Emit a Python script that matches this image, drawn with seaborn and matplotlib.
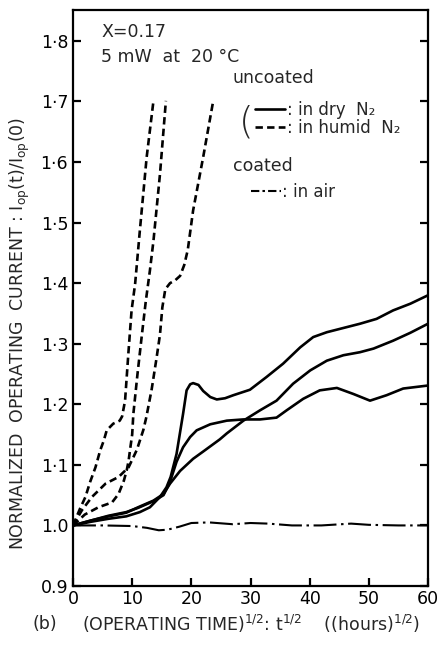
import numpy as np
import pandas as pd
import seaborn as sns
import matplotlib
matplotlib.use("Agg")
import matplotlib.pyplot as plt
from matplotlib.lines import Line2D

# ---------------- data ----------------
# uncoated, humid N2 (dashed)
hum_a_x = [0, 1.2, 2.1, 2.9, 3.8, 4.6, 5.2, 5.7, 6.8, 7.9, 8.3, 8.8, 9.35, 9.9, 10.5, 11.3, 12.45, 13.6]
hum_a_y = [1.0, 1.028, 1.047, 1.072, 1.096, 1.124, 1.140, 1.157, 1.168, 1.173, 1.180, 1.206, 1.283, 1.355, 1.399, 1.487, 1.608, 1.701]

hum_b_x = [0, 1.5, 3.2, 5.5, 7.7, 9.4, 10.8, 11.9, 12.4, 13.3, 14.1, 14.7, 15.1, 15.6, 16.4, 17.3, 18.1, 18.8, 19.4, 20.3, 22.0, 23.7]
hum_b_y = [1.0, 1.025, 1.047, 1.069, 1.080, 1.096, 1.125, 1.158, 1.179, 1.225, 1.275, 1.315, 1.360, 1.390, 1.400, 1.405, 1.412, 1.430, 1.455, 1.520, 1.608, 1.701]

hum_c_x = [0, 2.0, 4.3, 6.6, 7.7, 8.6, 9.1, 9.4, 9.7, 10.0, 10.2, 10.9, 11.6, 12.3, 13.0, 13.6, 14.7, 15.7]
hum_c_y = [1.0, 1.018, 1.030, 1.038, 1.052, 1.074, 1.092, 1.107, 1.129, 1.150, 1.184, 1.250, 1.311, 1.370, 1.421, 1.470, 1.580, 1.701]

# uncoated, dry N2 (solid)
dry_a_x = [0, 3, 6, 9, 11.3, 13.0, 14.7, 15.8, 16.5, 17.5, 18.6, 19.2, 19.8, 20.3, 21.2, 22.0, 23.2, 24.3, 25.7, 27.1, 29.9, 32.7, 35.5, 38.4, 40.6, 42.9, 45.7, 48.5, 51.3, 54.1, 57.0, 60]
dry_a_y = [1.0, 1.006, 1.011, 1.015, 1.022, 1.030, 1.047, 1.063, 1.080, 1.118, 1.184, 1.223, 1.233, 1.235, 1.232, 1.222, 1.212, 1.208, 1.210, 1.215, 1.224, 1.245, 1.267, 1.294, 1.311, 1.319, 1.326, 1.333, 1.341, 1.355, 1.366, 1.380]

dry_b_x = [0, 3, 6, 9, 11, 13.6, 15.3, 16.4, 18.1, 20.3, 22.0, 24.8, 26.0, 28.8, 31.6, 34.4, 37.2, 40.1, 42.9, 45.7, 48.5, 50.8, 54.1, 57.0, 60]
dry_b_y = [1.0, 1.008, 1.015, 1.021, 1.030, 1.041, 1.052, 1.069, 1.090, 1.110, 1.122, 1.142, 1.152, 1.173, 1.190, 1.206, 1.234, 1.256, 1.272, 1.281, 1.286, 1.292, 1.305, 1.318, 1.333]

dry_c_x = [0, 3, 6, 9, 11, 13.6, 15.3, 16.4, 17.5, 18.6, 19.8, 20.9, 23.2, 26.0, 28.8, 31.6, 34.4, 36.1, 38.9, 41.7, 44.6, 47.4, 50.2, 53.0, 55.8, 60]
dry_c_y = [1.0, 1.008, 1.016, 1.022, 1.029, 1.040, 1.050, 1.072, 1.105, 1.129, 1.146, 1.157, 1.167, 1.173, 1.175, 1.175, 1.178, 1.190, 1.209, 1.223, 1.227, 1.217, 1.206, 1.215, 1.226, 1.231]

# coated, in air (dash-dot)
air_x = [0, 5, 10, 12.5, 14.5, 16, 18, 20, 23, 27, 30, 33, 37, 42, 47, 50, 55, 60]
air_y = [1.0, 1.0, 0.999, 0.996, 0.992, 0.993, 0.998, 1.004, 1.005, 1.002, 1.004, 1.003, 1.0, 1.0, 1.003, 1.001, 1.0, 1.0]

x_ticks = [0, 10, 20, 30, 40, 50, 60]
y_ticks = [0.9, 1.0, 1.1, 1.2, 1.3, 1.4, 1.5, 1.6, 1.7, 1.8]
y_tick_labels = ["0.9", "1.0", "1·1", "1·2", "1·3", "1·4", "1·5", "1·6", "1·7", "1·8"]

# ---------------- styling ----------------
sns.set_style("ticks")
plt.rcParams["font.family"] = ["DejaVu Sans"]
plt.rcParams["mathtext.default"] = "regular"
plt.rcParams["axes.linewidth"] = 1.6

FS = 12.5
W, H = 443, 649
fig = plt.figure(figsize=(W / 100, H / 100), dpi=100)
ax = fig.add_axes([73 / W, 1 - 586 / H, (428 - 73) / W, (586 - 10) / H])

lw = 1.9
dash = (0, (2.8, 1.6))
dashdot = (0, (11, 2.2, 1.2, 2.2))

for xs, ys in [(hum_a_x, hum_a_y), (hum_b_x, hum_b_y), (hum_c_x, hum_c_y)]:
    sns.lineplot(x=xs, y=ys, ax=ax, color="black", lw=lw, linestyle=dash, sort=False)
for xs, ys in [(dry_a_x, dry_a_y), (dry_b_x, dry_b_y), (dry_c_x, dry_c_y)]:
    sns.lineplot(x=xs, y=ys, ax=ax, color="black", lw=lw, linestyle="-", sort=False)
sns.lineplot(x=air_x, y=air_y, ax=ax, color="black", lw=1.5, linestyle=dashdot, sort=False)

ax.set_xlim(0, 60)
ax.set_ylim(0.9, 1.851)
ax.set_xticks(x_ticks)
ax.set_yticks(y_ticks)
ax.set_yticklabels(y_tick_labels)
ax.tick_params(axis="both", direction="in", length=6, width=1.6, labelsize=FS,
               colors="black", pad=4)
ax.tick_params(axis="y", right=True, left=True, pad=3.5)
ax.tick_params(axis="x", pad=3)
ax.set_xlabel("")
ax.set_ylabel("")
for s in ax.spines.values():
    s.set_visible(True)
    s.set_color("black")

# annotation texts
ax.text(0.08, 0.977, "X=0.17", transform=ax.transAxes, fontsize=FS, va="top")
ax.text(0.08, 0.934, "5 mW  at  20 °C", transform=ax.transAxes, fontsize=FS, va="top")
ax.text(0.45, 0.897, "uncoated", transform=ax.transAxes, fontsize=FS, va="top")
ax.text(0.45, 0.745, "coated", transform=ax.transAxes, fontsize=FS, va="top")
ax.text(0.487, 0.806, "(", transform=ax.transAxes, fontsize=27, va="center",
        ha="center", fontweight="light")

leg1 = ax.legend(handles=[Line2D([], [], color="black", lw=lw, linestyle="-"),
                          Line2D([], [], color="black", lw=lw, linestyle=dash)],
                 labels=[": in dry  N₂", ": in humid  N₂"],
                 loc="upper left", bbox_to_anchor=(0.513, 0.842), frameon=False,
                 fontsize=12, handlelength=1.8, handletextpad=0.1,
                 labelspacing=0.0, borderpad=0, borderaxespad=0)
ax.add_artist(leg1)
ax.legend(handles=[Line2D([], [], color="black", lw=1.5, linestyle=(0, (4, 1.5, 1.2, 1.5)))],
          labels=[": in air"], loc="upper left", bbox_to_anchor=(0.50, 0.700),
          frameon=False, fontsize=12, handlelength=1.8, handletextpad=0.1,
          borderpad=0, borderaxespad=0)

fig.text(20 / W, 1 - 333 / H,
         "NORMALIZED  OPERATING  CURRENT : I$_{op}$(t)/I$_{op}$(0)",
         rotation=90, ha="center", va="center", fontsize=FS)
fig.text(32 / W, 1 - 624 / H, "(b)", ha="left", va="center", fontsize=FS)
fig.text(82 / W, 1 - 624 / H,
         "(OPERATING TIME)$^{1/2}$: t$^{1/2}$    ((hours)$^{1/2}$)",
         ha="left", va="center", fontsize=FS)

fig.savefig("out.png", dpi=100)
